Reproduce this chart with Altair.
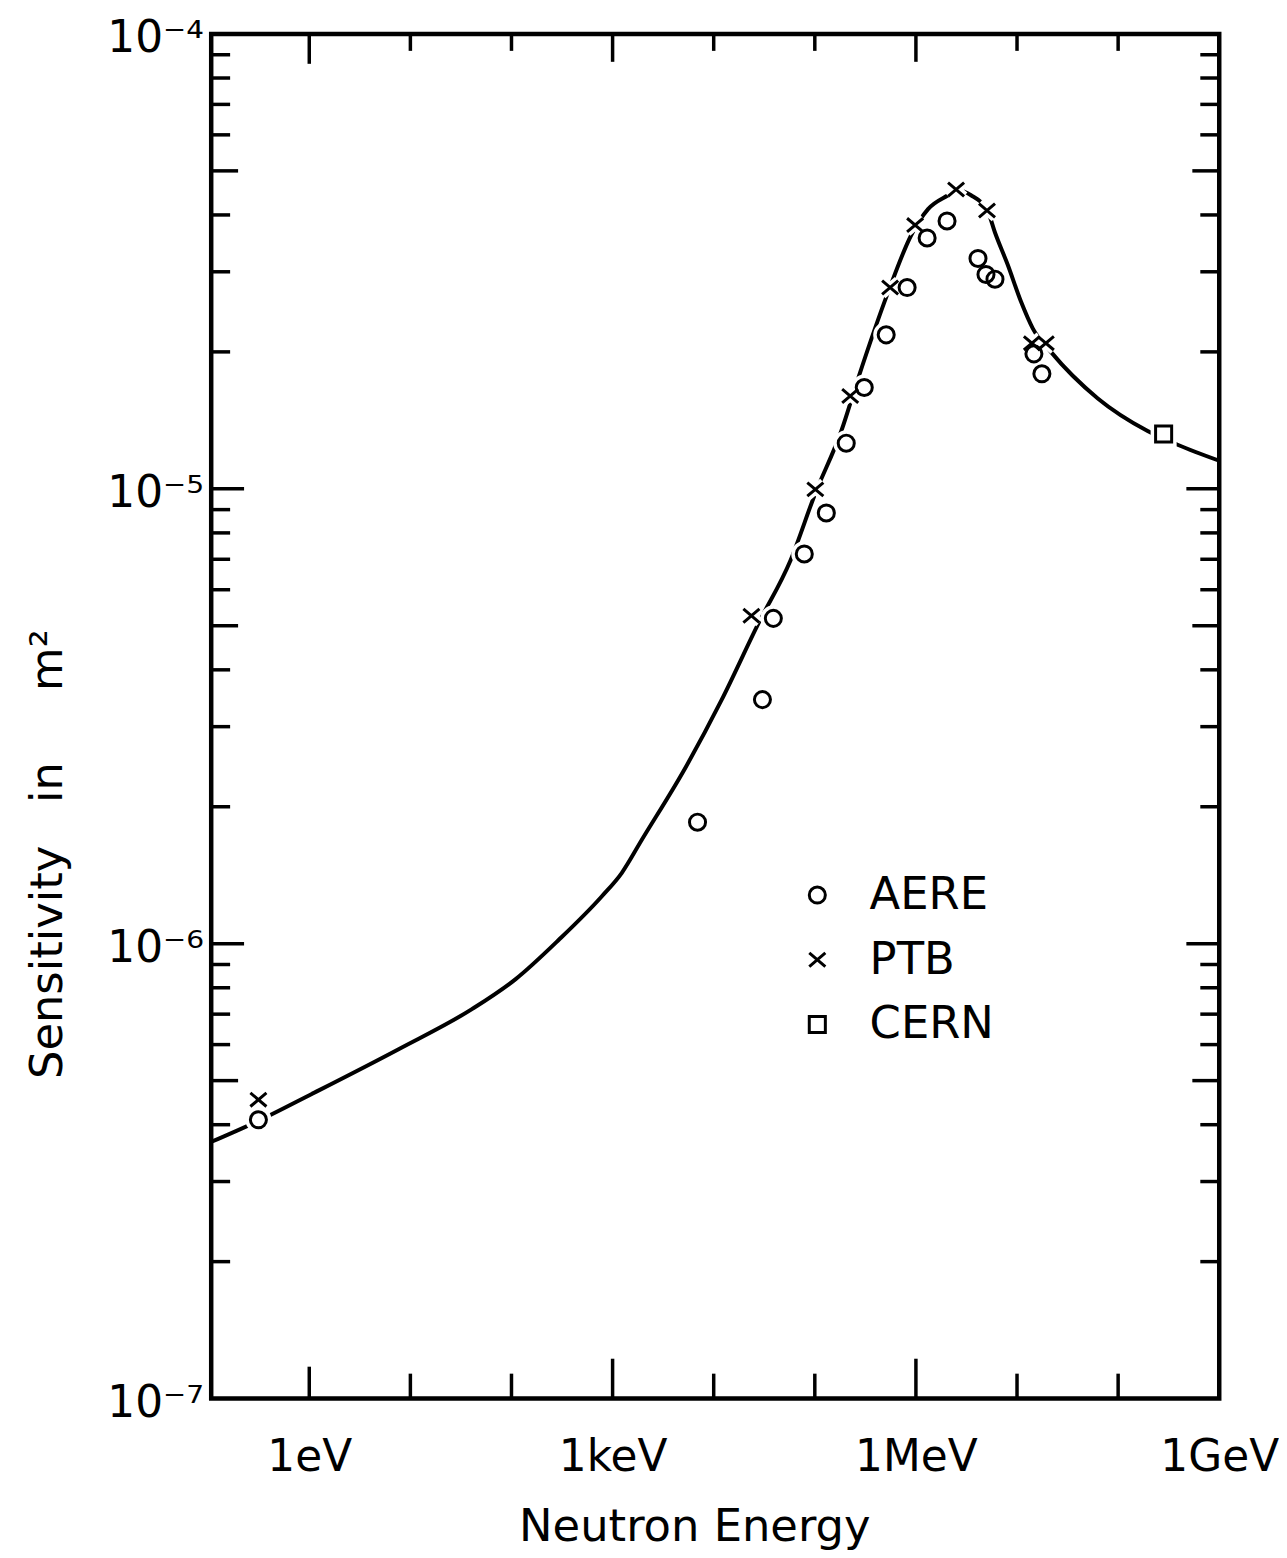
import json
import altair as alt
import pandas as pd

FONT = "DejaVu Sans"

# ---- data (energy in eV, sensitivity in m^2) ----
aere_energy = [0.314, 6918, 30340, 38900, 78700, 130000, 204600, 308300, 508200,
               818400, 1.291e6, 2.032e6, 4.111e6, 4.932e6, 6.053e6, 1.469e7, 1.762e7]
aere_sens = [4.10e-7, 1.85e-6, 3.44e-6, 5.19e-6, 7.19e-6, 8.85e-6, 1.26e-5, 1.67e-5, 2.18e-5,
             2.77e-5, 3.56e-5, 3.88e-5, 3.21e-5, 2.96e-5, 2.89e-5, 1.98e-5, 1.79e-5]

ptb_energy = [0.314, 23600, 101200, 223900, 555900, 982000, 2.495e6, 5.047e6, 1.403e7, 1.928e7]
ptb_sens = [4.54e-7, 5.26e-6, 9.97e-6, 1.60e-5, 2.77e-5, 3.80e-5, 4.55e-5, 4.09e-5, 2.09e-5, 2.09e-5]

cern_energy = [2.818e8]
cern_sens = [1.32e-5]

curve_energy = [0.108, 0.300, 1.07, 7.73, 40.6, 110, 294, 780, 1230, 1940, 5270, 11940,
                27700, 57300, 101000, 182800, 268500, 532100, 897500, 1.318e6, 2.080e6,
                2.495e6, 3.508e6, 5.164e6, 6.053e6, 8.128e6, 1.094e7, 1.435e7, 2.163e7,
                6.295e7, 1.959e8, 3.873e8, 1.03e9]
curve_sens = [3.67e-7, 4.06e-7, 4.68e-7, 5.87e-7, 7.18e-7, 8.36e-7, 1.02e-6, 1.27e-6, 1.43e-6,
              1.69e-6, 2.44e-6, 3.43e-6, 5.06e-6, 6.95e-6, 9.77e-6, 1.34e-5, 1.75e-5, 2.71e-5,
              3.61e-5, 4.12e-5, 4.42e-5, 4.53e-5, 4.42e-5, 4.06e-5, 3.66e-5, 3.10e-5, 2.58e-5,
              2.25e-5, 2.00e-5, 1.58e-5, 1.34e-5, 1.25e-5, 1.15e-5]

series_names = ["AERE", "PTB", "CERN"]

x_label_values = [1, 1e3, 1e6, 1e9]
x_label_text = ["1eV", "1keV", "1MeV", "1GeV"]
y_label_values = [1e-7, 1e-6, 1e-5, 1e-4]
y_label_text = ["10\u207b\u2077", "10\u207b\u2076", "10\u207b\u2075", "10\u207b\u2074"]

x_tick_one = [1]
x_tick_major = [1e3, 1e6]
x_tick_minor = [10, 100, 1e4, 1e5, 1e7, 1e8]
y_tick_major = [1e-6, 1e-5]
y_tick_five = [5e-7, 5e-6, 5e-5]
y_tick_minor = [2e-7, 3e-7, 4e-7, 6e-7, 7e-7, 8e-7, 9e-7,
                2e-6, 3e-6, 4e-6, 6e-6, 7e-6, 8e-6, 9e-6,
                2e-5, 3e-5, 4e-5, 6e-5, 7e-5, 8e-5, 9e-5]

x_domain = [10 ** -0.97, 1e9]
y_domain = [1e-7, 1e-4]

# ---- layout ----
W, H = 1012, 1370

points = pd.DataFrame(
    {"energy": aere_energy + ptb_energy + cern_energy,
     "sens": aere_sens + ptb_sens + cern_sens,
     "series": ["AERE"] * len(aere_energy) + ["PTB"] * len(ptb_energy) + ["CERN"] * len(cern_energy)}
)
curve_df = pd.DataFrame({"energy": curve_energy, "sens": curve_sens})

xscale = alt.Scale(type="log", domain=x_domain, nice=False)
yscale = alt.Scale(type="log", domain=y_domain, nice=False)

x_expr = f"{json.dumps(x_label_text)}[round(log(datum.value)/LN10/3)]"
y_expr = f"{json.dumps(y_label_text, ensure_ascii=False)}[round(log(datum.value)/LN10) + 7]"

xaxis = alt.Axis(values=x_label_values, labelExpr=x_expr, ticks=False, domain=False, grid=False,
                 labelFont=FONT, labelFontSize=44, labelColor="black", labelPadding=72,
                 labelBaseline="alphabetic", labelFlush=False, labelOverlap=False,
                 title="Neutron Energy", titleFont=FONT, titleFontSize=45, titleFontWeight="normal",
                 titleColor="black", titleX=485, titleY=142, titleAlign="center",
                 titleBaseline="alphabetic")
yaxis = alt.Axis(values=y_label_values, labelExpr=y_expr, ticks=False, domain=False, grid=False,
                 labelFont=FONT, labelFontSize=44, labelColor="black", labelPadding=8,
                 labelBaseline="alphabetic", labelOffset=18, labelAlign="right",
                 labelOverlap=False,
                 title="Sensitivity\u00a0\u00a0\u00a0in\u00a0\u00a0\u00a0\u00a0\u00a0m\u00b2",
                 titleFont=FONT, titleFontSize=45, titleFontWeight="normal", titleColor="black",
                 titleX=-164, titleY=823, titleAngle=270, titleAlign="center",
                 titleBaseline="middle")

shape_range = ["circle", "M-1,-0.85L1,0.85M-1,0.85L1,-0.85", "square"]
shape_scale = alt.Scale(domain=series_names, range=shape_range)

legend = alt.Legend(orient="none", legendX=586, legendY=842, title=None,
                    labelFont=FONT, labelFontSize=45, labelColor="black",
                    labelOffset=30, rowPadding=19, padding=0,
                    symbolStrokeColor="black", symbolStrokeWidth=3, symbolFillColor="white",
                    symbolSize=260, labelLimit=0)


def X(field):
    return alt.X(f"{field}:Q", scale=xscale, axis=xaxis)


def Y(field):
    return alt.Y(f"{field}:Q", scale=yscale, axis=yaxis)


curve = alt.Chart(curve_df).mark_line(color="black", strokeWidth=4, interpolate="monotone",
                                      clip=True, strokeCap="round").encode(
    x=X("energy"), y=Y("sens"), order=alt.Order("energy:Q"),
)

halos = alt.Chart(points).mark_point(filled=True, fill="white", stroke="white", strokeWidth=10,
                                     size=260, opacity=1).encode(
    x=X("energy"), y=Y("sens"),
    shape=alt.Shape("series:N", scale=alt.Scale(domain=series_names, range=shape_range),
                    legend=None),
)

markers = alt.Chart(points).mark_point(filled=False, color="black", strokeWidth=3,
                                       size=260, opacity=1).encode(
    x=X("energy"), y=Y("sens"),
    shape=alt.Shape("series:N", scale=shape_scale, legend=legend),
)


def y_ticks(vals, length):
    d = pd.DataFrame({"v": vals})
    left = alt.Chart(d).mark_rule(color="black", strokeWidth=3.5).encode(
        y=Y("v"), x=alt.value(0), x2=alt.value(length))
    right = alt.Chart(d).mark_rule(color="black", strokeWidth=3.5).encode(
        y=Y("v"), x=alt.value(W), x2=alt.value(W - length))
    return [left, right]


def x_ticks(vals, bottom_len, top_len):
    d = pd.DataFrame({"v": vals})
    bottom = alt.Chart(d).mark_rule(color="black", strokeWidth=3.5).encode(
        x=X("v"), y=alt.value(H), y2=alt.value(H - bottom_len))
    top = alt.Chart(d).mark_rule(color="black", strokeWidth=3.5).encode(
        x=X("v"), y=alt.value(0), y2=alt.value(top_len))
    return [bottom, top]


tick_layers = (y_ticks(y_tick_minor, 19) + y_ticks(y_tick_five, 27) + y_ticks(y_tick_major, 33)
               + x_ticks(x_tick_minor, 25, 17) + x_ticks(x_tick_major, 40, 28)
               + x_ticks(x_tick_one, 32, 30))

chart = alt.layer(curve, *tick_layers, halos, markers).resolve_scale(
    shape="independent"
).properties(
    width=W, height=H,
    autosize=alt.AutoSizeParams(type="none"),
    padding={"left": 204, "top": 23, "right": 60, "bottom": 150},
    background="white",
).configure_view(stroke="black", strokeWidth=4.5)

chart.save("out.html", embed_options={"renderer": "svg", "actions": False})
